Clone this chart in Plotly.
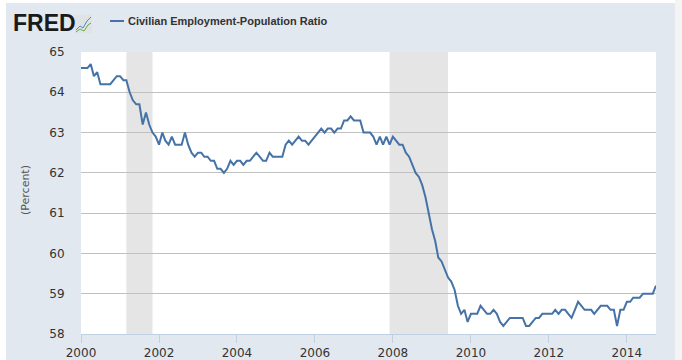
import pandas as pd
import plotly.graph_objects as go

# Civilian Employment-Population Ratio, monthly, Jan 2000 - Oct 2014 (percent)
values_2000 = [64.6, 64.6, 64.6, 64.7, 64.4, 64.5, 64.2, 64.2, 64.2, 64.2, 64.3, 64.4]
values_2001 = [64.4, 64.3, 64.3, 64.0, 63.8, 63.7, 63.7, 63.2, 63.5, 63.2, 63.0, 62.9]
values_2002 = [62.7, 63.0, 62.8, 62.7, 62.9, 62.7, 62.7, 62.7, 63.0, 62.7, 62.5, 62.4]
values_2003 = [62.5, 62.5, 62.4, 62.4, 62.3, 62.3, 62.1, 62.1, 62.0, 62.1, 62.3, 62.2]
values_2004 = [62.3, 62.3, 62.2, 62.3, 62.3, 62.4, 62.5, 62.4, 62.3, 62.3, 62.5, 62.4]
values_2005 = [62.4, 62.4, 62.4, 62.7, 62.8, 62.7, 62.8, 62.9, 62.8, 62.8, 62.7, 62.8]
values_2006 = [62.9, 63.0, 63.1, 63.0, 63.1, 63.1, 63.0, 63.1, 63.1, 63.3, 63.3, 63.4]
values_2007 = [63.3, 63.3, 63.3, 63.0, 63.0, 63.0, 62.9, 62.7, 62.9, 62.7, 62.9, 62.7]
values_2008 = [62.9, 62.8, 62.7, 62.7, 62.5, 62.4, 62.2, 62.0, 61.9, 61.7, 61.4, 61.0]
values_2009 = [60.6, 60.3, 59.9, 59.8, 59.6, 59.4, 59.3, 59.1, 58.7, 58.5, 58.6, 58.3]
values_2010 = [58.5, 58.5, 58.5, 58.7, 58.6, 58.5, 58.5, 58.6, 58.5, 58.3, 58.2, 58.3]
values_2011 = [58.4, 58.4, 58.4, 58.4, 58.4, 58.2, 58.2, 58.3, 58.4, 58.4, 58.5, 58.5]
values_2012 = [58.5, 58.5, 58.6, 58.5, 58.6, 58.6, 58.5, 58.4, 58.6, 58.8, 58.7, 58.6]
values_2013 = [58.6, 58.6, 58.5, 58.6, 58.7, 58.7, 58.7, 58.6, 58.6, 58.2, 58.6, 58.6]
values_2014 = [58.8, 58.8, 58.9, 58.9, 58.9, 59.0, 59.0, 59.0, 59.0, 59.2]

series_name = "Civilian Employment-Population Ratio"
start_month = "2000-01-01"

recession_starts = ["2001-03-01", "2007-12-01"]
recession_ends = ["2001-11-01", "2009-06-01"]

x_tick_years = [2000, 2002, 2004, 2006, 2008, 2010, 2012, 2014]
y_ticks = [58, 59, 60, 61, 62, 63, 64, 65]
y_title = "(Percent)"

values = (values_2000 + values_2001 + values_2002 + values_2003 + values_2004 +
          values_2005 + values_2006 + values_2007 + values_2008 + values_2009 +
          values_2010 + values_2011 + values_2012 + values_2013 + values_2014)
dates = pd.date_range(start_month, periods=len(values), freq="MS")

W, H = 682, 360
L, R, T, B = 81, 26, 52, 26
PW, PH = W - L - R, H - T - B


def px(x):
    return (x - L) / PW


def py(y):
    return (H - B - y) / PH


fig = go.Figure()
fig.add_trace(go.Scatter(x=dates, y=values, mode="lines", name=series_name,
                         line=dict(color="#4572a7", width=2), showlegend=False))

shapes = []
for s, e in zip(recession_starts, recession_ends):
    shapes.append(dict(type="rect", xref="x", yref="paper", x0=s, x1=e, y0=0, y1=1,
                       fillcolor="#e5e5e5", line=dict(width=0), layer="below"))
# outer frame strips around the blue panel
shapes.append(dict(type="rect", xref="paper", yref="paper", x0=px(0), x1=px(W), y0=py(3), y1=py(0),
                   fillcolor="#ffffff", line=dict(width=0), layer="below"))
shapes.append(dict(type="rect", xref="paper", yref="paper", x0=px(0), x1=px(6), y0=py(H), y1=py(0),
                   fillcolor="#ffffff", line=dict(width=0), layer="below"))
shapes.append(dict(type="rect", xref="paper", yref="paper", x0=px(675), x1=px(W), y0=py(H), y1=py(0),
                   fillcolor="#f4f4f4", line=dict(width=0), layer="below"))
# legend line sample
shapes.append(dict(type="line", xref="paper", yref="paper", x0=px(110), x1=px(124), y0=py(21), y1=py(21),
                   line=dict(color="#4572a7", width=2)))
# FRED logo icon
shapes.append(dict(type="rect", xref="paper", yref="paper", x0=px(75), x1=px(92), y0=py(33), y1=py(15),
                   fillcolor="#dfe3e6", line=dict(width=0)))
shapes.append(dict(type="path", xref="paper", yref="paper",
                   path="M %f,%f L %f,%f L %f,%f L %f,%f L %f,%f" % (px(76), py(30), px(80), py(26), px(83), py(28),
                                                                      px(87), py(21), px(91), py(17)),
                   line=dict(color="#3e8fc9", width=1)))
shapes.append(dict(type="path", xref="paper", yref="paper",
                   path="M %f,%f L %f,%f L %f,%f L %f,%f L %f,%f" % (px(76), py(32), px(80), py(29), px(84), py(31),
                                                                      px(88), py(25), px(91), py(23)),
                   line=dict(color="#6aab3c", width=1)))

annotations = [
    dict(text="<b>FRED</b>", xref="paper", yref="paper", x=px(11), y=py(23), xanchor="left", yanchor="middle",
         showarrow=False, font=dict(family="Liberation Sans", size=23, color="#1a1a1a")),
    dict(text="<b>" + series_name + "</b>", xref="paper", yref="paper", x=px(126), y=py(21),
         xanchor="left", yanchor="middle", showarrow=False,
         font=dict(family="Liberation Sans", size=11, color="#333333")),
    dict(text=y_title, xref="paper", yref="paper", x=px(25), y=py(190), xanchor="center", yanchor="middle",
         textangle=-90, showarrow=False, font=dict(family="DejaVu Sans", size=11, color="#555555")),
]

fig.update_layout(
    width=W, height=H,
    margin=dict(l=L, r=R, t=T, b=B, pad=0, autoexpand=False),
    paper_bgcolor="#e1e8ef",
    plot_bgcolor="#ffffff",
    shapes=shapes,
    annotations=annotations,
    font=dict(family="DejaVu Sans", size=12, color="#333333"),
    xaxis=dict(type="date", range=[dates[0], dates[-1]],
               tickvals=[pd.Timestamp(year=yv, month=1, day=1) for yv in x_tick_years],
               ticktext=[str(yv) for yv in x_tick_years],
               showgrid=False, showline=True, linecolor="#c0d0e0", linewidth=1,
               ticks="outside", ticklen=8, tickcolor="#c0d0e0",
               tickfont=dict(family="DejaVu Sans", size=12, color="#333333")),
    yaxis=dict(range=[58, 65], tickvals=y_ticks, showgrid=True, gridcolor="#c0c0c0", gridwidth=1,
               zeroline=False, showline=False, ticks="outside", ticklen=13, tickcolor="rgba(0,0,0,0)",
               tickfont=dict(family="DejaVu Sans", size=12, color="#333333")),
)

fig.write_html("out.html", config={"displayModeBar": False},
               post_script="document.body.style.margin='0';document.body.style.overflow='hidden';")
